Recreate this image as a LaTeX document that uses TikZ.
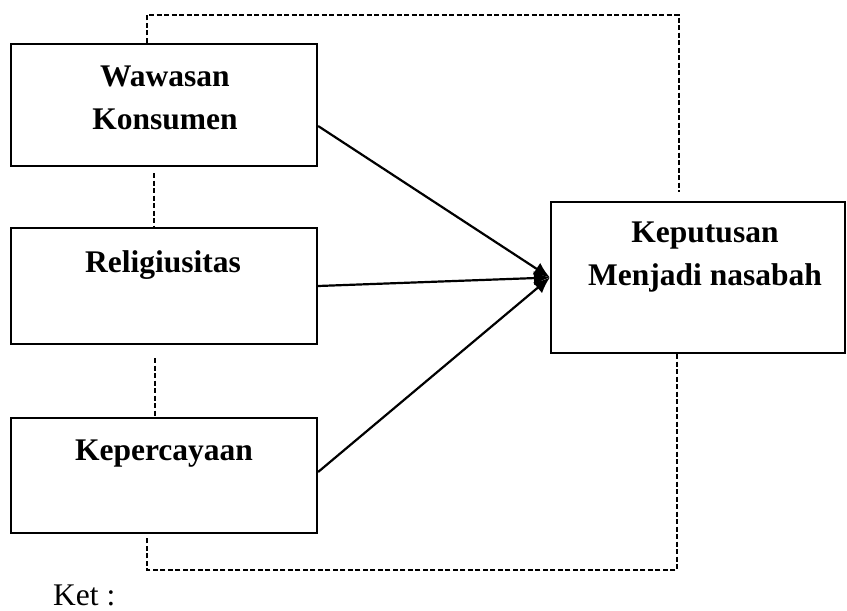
\documentclass[tikz,border=0pt]{standalone}
\usepackage{fontspec}
\setmainfont{Liberation Serif}
\usetikzlibrary{arrows.meta, calc, positioning}

\begin{document}
\begin{tikzpicture}[x=1pt, y=-1pt,
  box/.style={shape=rectangle, draw=black, line width=2.2pt, inner sep=0pt},
  title/.style={align=center, font=\fontsize{31.5}{43}\selectfont\bfseries, anchor=base, inner sep=0pt},
  link/.style={line width=1.8pt, dash pattern=on 5pt off 2.5pt},
  effect/.style={line width=2.2pt, -{Latex[length=16pt, width=14pt]}}]
\useasboundingbox (0,0) rectangle (847,611);

\node[box, minimum width=306pt, minimum height=122pt] (W) at (164,105) {};
\node[box, minimum width=306pt, minimum height=116pt] (R) at (164,286) {};
\node[box, minimum width=306pt, minimum height=115pt] (K) at (164,475.5) {};
\node[box, minimum width=294pt, minimum height=151pt] (M) at (698,277.5) {};

\node[title] (Wt) at (165,129) {Wawasan\\Konsumen};
\node[title] (Rt) at (163,272) {Religiusitas};
\node[title] (Kt) at (164,460) {Kepercayaan};
\node[title] (Mt) at (705,285) {Keputusan\\Menjadi nasabah};

\node[anchor=base west, inner sep=0pt, font=\fontsize{31.5}{43}\selectfont] (ket) at (53,605) {Ket :};

% pengaruh ke keputusan
\draw[effect] ([yshift=-21pt]W.east) -- (M.west);
\draw[effect] (R.east) -- (M.west);
\draw[effect] ([yshift=3.5pt]K.east) -- (M.west);

% garis putus-putus
\coordinate (topR) at (679,15);
\coordinate (topE) at (679,192);
\coordinate (botL) at (147,570);
\coordinate (botE) at (147,538);
\draw[link] ([xshift=-17pt]W.north) |- (topR) -- (topE);
\draw[link] ([xshift=-21pt]M.south) |- (botL) -- (botE);
\draw[link] ([xshift=-10pt,yshift=-6pt]W.south) -- ([xshift=-10pt]R.north);
\draw[link] ([xshift=-9pt,yshift=-13pt]R.south) -- ([xshift=-9pt]K.north);

\end{tikzpicture}
\end{document}
